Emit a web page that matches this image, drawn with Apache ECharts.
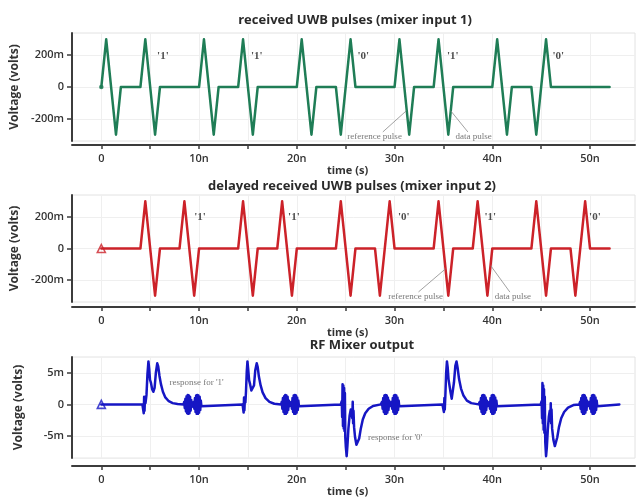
<!DOCTYPE html>
<html>
<head>
<meta charset="utf-8">
<title>UWB pulse mixer</title>
<script src="https://cdn.jsdelivr.net/npm/echarts@6/dist/echarts.min.js"></script>
<style>
  html, body { margin: 0; padding: 0; background: #fff; }
  #chart { width: 643px; height: 498px; }
</style>
</head>
<body>
<div id="chart"></div>
<script>
// time in ns, voltage in mV

const timeTickValues = [0, 5, 10, 15, 20, 25, 30, 35, 40, 45, 50];
const timeLabelValues = [0, 10, 20, 30, 40, 50];
const pulseVoltageLabels = [-200, 0, 200];
const mixerVoltageLabels = [-5, 0, 5];

const titles = [
  'received UWB pulses (mixer input 1)',
  'delayed received UWB pulses (mixer input 2)',
  'RF Mixer output'
];

const bitsSent = ["'1'", "'1'", "'0'", "'1'", "'0'"];

// mixer input 1: reference pulse + data pulse every 10 ns
const inputOnePulse = [
  [0, 0], [0.5, 300], [1.5, -300], [2, 0], [4, 0], [4.5, 300], [5.5, -300], [6, 0],
  [10, 0], [10.5, 300], [11.5, -300], [12, 0], [14, 0], [14.5, 300], [15.5, -300], [16, 0],
  [20, 0], [20.5, 300], [21.5, -300], [22, 0], [24, 0], [24.5, -300], [25.5, 300], [26, 0],
  [30, 0], [30.5, 300], [31.5, -300], [32, 0], [34, 0], [34.5, 300], [35.5, -300], [36, 0],
  [40, 0], [40.5, 300], [41.5, -300], [42, 0], [44, 0], [44.5, -300], [45.5, 300], [46, 0],
  [52, 0]
];

// mixer input 2: the same pulse train delayed by 4 ns
const inputTwoPulse = [
  [0, 0], [4, 0], [4.5, 300], [5.5, -300], [6, 0], [8, 0], [8.5, 300], [9.5, -300], [10, 0],
  [14, 0], [14.5, 300], [15.5, -300], [16, 0], [18, 0], [18.5, 300], [19.5, -300], [20, 0],
  [24, 0], [24.5, 300], [25.5, -300], [26, 0], [28, 0], [28.5, -300], [29.5, 300], [30, 0],
  [34, 0], [34.5, 300], [35.5, -300], [36, 0], [38, 0], [38.5, 300], [39.5, -300], [40, 0],
  [44, 0], [44.5, 300], [45.5, -300], [46, 0], [48, 0], [48.5, -300], [49.5, 300], [50, 0],
  [52, 0]
];

// RF mixer output
const mixerOutput = [
  [0, 0], [4.2, 0],
  // bit 1
  [4.3, 0.3], [4.34, -1.4], [4.38, 1.2], [4.42, -1.0], [4.46, 0.8], [4.52, 0.2], [4.62, 1.5],
  [4.72, 4.8], [4.82, 6.8], [4.9, 5.6], [4.98, 3.9], [5.08, 3.4], [5.2, 2.4], [5.32, 2.0],
  [5.45, 2.6], [5.58, 5.0], [5.72, 6.5], [5.82, 6.0], [5.95, 4.5], [6.1, 3.2], [6.3, 2.0],
  [6.55, 1.1], [6.9, 0.5], [7.3, 0.2], [7.8, 0.05], [8.42, 0],
  [8.48, 0.4], [8.54, -0.6], [8.6, 0.9], [8.66, -1.1], [8.72, 1.3], [8.78, -1.4], [8.84, 1.5],
  [8.9, -1.5], [8.96, 1.4], [9.02, -1.4], [9.08, 1.2], [9.14, -1.0], [9.2, 0.7], [9.26, -0.4],
  [9.32, 0], [9.4, 0],
  [9.46, 0.4], [9.52, -0.7], [9.58, 1.0], [9.64, -1.2], [9.7, 1.4], [9.76, -1.5], [9.82, 1.5],
  [9.88, -1.5], [9.94, 1.4], [10.0, -1.3], [10.06, 1.2], [10.12, -0.9], [10.18, 0.6], [10.24, -0.3],
  [10.3, 0],
  // bit 2
  [14.45, 0], [14.5, 0.2], [14.56, -1.3], [14.6, 1.1], [14.64, -0.9], [14.68, 0.7], [14.74, 0.3],
  [14.8, 2.0], [14.88, 5.2], [14.95, 6.8], [15.03, 5.5], [15.12, 3.8], [15.22, 3.2], [15.35, 2.2],
  [15.5, 2.1], [15.62, 3.0], [15.75, 5.4], [15.9, 6.5], [16.0, 5.9], [16.12, 4.4], [16.3, 3.0],
  [16.5, 1.9], [16.8, 1.0], [17.2, 0.4], [17.7, 0.1], [18.4, 0],
  [18.46, 0.4], [18.52, -0.7], [18.58, 1.0], [18.64, -1.2], [18.7, 1.3], [18.76, -1.5], [18.82, 1.5],
  [18.88, -1.5], [18.94, 1.4], [19.0, -1.3], [19.06, 1.2], [19.12, -0.9], [19.18, 0.6], [19.24, -0.3],
  [19.3, 0], [19.38, 0],
  [19.44, 0.4], [19.5, -0.7], [19.56, 1.0], [19.62, -1.2], [19.68, 1.4], [19.74, -1.5], [19.8, 1.5],
  [19.86, -1.5], [19.92, 1.4], [19.98, -1.3], [20.04, 1.1], [20.1, -0.9], [20.16, 0.6], [20.22, -0.3],
  [20.28, 0],
  // bit 3
  [24.5, 0], [24.6, 0.5], [24.64, -2.0], [24.68, 3.2], [24.72, -3.4], [24.76, 3.0], [24.8, -3.8],
  [24.84, 2.6], [24.88, -4.2], [24.92, 1.8], [24.96, -5.2], [25.02, -6.8], [25.1, -8.2], [25.18, -6.5],
  [25.28, -3.8], [25.4, -1.8], [25.52, -0.8], [25.62, -0.5], [25.68, -2.2], [25.72, 0.4], [25.76, -3.0],
  [25.8, -1.0], [25.86, -3.6], [25.96, -5.2], [26.1, -6.4], [26.25, -6.7], [26.38, -5.4], [26.55, -3.8],
  [26.75, -2.4], [27.0, -1.4], [27.35, -0.7], [27.8, -0.25], [28.6, 0],
  [28.72, 0.4], [28.78, -0.7], [28.84, 1.0], [28.9, -1.2], [28.96, 1.4], [29.02, -1.5], [29.08, 1.5],
  [29.14, -1.5], [29.2, 1.4], [29.26, -1.3], [29.32, 1.1], [29.38, -0.9], [29.44, 0.6], [29.5, -0.3],
  [29.56, 0], [29.64, 0],
  [29.7, 0.4], [29.76, -0.7], [29.82, 1.0], [29.88, -1.2], [29.94, 1.4], [30.0, -1.5], [30.06, 1.5],
  [30.12, -1.5], [30.18, 1.4], [30.24, -1.3], [30.3, 1.1], [30.36, -0.9], [30.42, 0.6], [30.48, -0.3],
  [30.54, 0],
  // bit 4
  [34.9, 0], [35.0, 0.3], [35.05, -1.2], [35.1, 1.0], [35.14, -0.8], [35.2, 1.5], [35.28, 5.0],
  [35.36, 6.8], [35.44, 5.8], [35.52, 4.0], [35.6, 3.8], [35.72, 2.0], [35.85, 0.9], [35.95, 1.2],
  [36.08, 3.5], [36.22, 6.1], [36.34, 6.8], [36.45, 5.8], [36.6, 4.0], [36.8, 2.5], [37.05, 1.4],
  [37.4, 0.6], [37.85, 0.2], [38.6, 0],
  [38.72, 0.4], [38.78, -0.7], [38.84, 1.0], [38.9, -1.2], [38.96, 1.4], [39.02, -1.5], [39.08, 1.5],
  [39.14, -1.5], [39.2, 1.4], [39.26, -1.3], [39.32, 1.1], [39.38, -0.9], [39.44, 0.6], [39.5, -0.3],
  [39.56, 0], [39.64, 0],
  [39.7, 0.4], [39.76, -0.7], [39.82, 1.0], [39.88, -1.2], [39.94, 1.4], [40.0, -1.5], [40.06, 1.5],
  [40.12, -1.5], [40.18, 1.4], [40.24, -1.3], [40.3, 1.1], [40.36, -0.9], [40.42, 0.6], [40.48, -0.3],
  [40.54, 0],
  // bit 5
  [44.95, 0], [45.05, 0.5], [45.09, -2.2], [45.13, 3.4], [45.17, -3.0], [45.21, 3.0], [45.25, -4.0],
  [45.29, 2.4], [45.33, -4.5], [45.37, 1.2], [45.42, -6.0], [45.5, -8.2], [45.58, -6.8], [45.68, -4.0],
  [45.78, -2.0], [45.88, -1.0], [45.94, -2.6], [45.98, 0.2], [46.02, -3.0], [46.06, -0.8], [46.12, -3.8],
  [46.25, -5.6], [46.4, -6.6], [46.52, -6.7], [46.65, -5.2], [46.82, -3.6], [47.05, -2.2], [47.35, -1.2],
  [47.75, -0.5], [48.3, -0.1], [48.9, 0],
  [48.98, 0.4], [49.04, -0.7], [49.1, 1.0], [49.16, -1.2], [49.22, 1.4], [49.28, -1.5], [49.34, 1.5],
  [49.4, -1.5], [49.46, 1.4], [49.52, -1.3], [49.58, 1.1], [49.64, -0.9], [49.7, 0.6], [49.76, -0.3],
  [49.82, 0], [49.9, 0],
  [49.96, 0.4], [50.02, -0.7], [50.08, 1.0], [50.14, -1.2], [50.2, 1.4], [50.26, -1.5], [50.32, 1.5],
  [50.38, -1.5], [50.44, 1.4], [50.5, -1.3], [50.56, 1.1], [50.62, -0.9], [50.68, 0.6], [50.74, -0.3],
  [50.8, 0],
  [53.0, 0]
];

// where each bit label sits (ns, mV)
const bitLabelAtInputOne = [[6.3, 195], [15.9, 195], [26.8, 195], [35.95, 195], [46.75, 195]];
const bitLabelAtInputTwo = [[10.1, 202], [19.7, 202], [30.95, 202], [39.8, 202], [50.5, 202]];

// pulse call-outs: text anchor, then leader start and end
const inputOneNotes = [
  { text: 'reference pulse', at: [27.95, -313], from: [28.8, -283], to: [31.2, -150] },
  { text: 'data pulse', at: [38.1, -313], from: [37.5, -283], to: [35.75, -150] }
];
const inputTwoNotes = [
  { text: 'reference pulse', at: [32.15, -306], from: [32.45, -276], to: [35.2, -130] },
  { text: 'data pulse', at: [42.1, -308], from: [41.8, -277], to: [39.85, -110] }
];
const mixerNotes = [
  { text: "response for '1'", at: [9.75, 3.5] },
  { text: "response for '0'", at: [30.05, -5.25] }
];

const SANS = '"Open Sans", "Noto Sans", sans-serif';
const SERIF = '"Liberation Serif", "DejaVu Serif", serif';
const GREEN = '#1f7d56';
const RED = '#cc2229';
const BLUE = '#1616c4';
const AXIS = '#3c3c3c';

const grids = [
  { left: 72, right: 8, top: 33, height: 108 },
  { left: 72, right: 8, top: 195, height: 107 },
  { left: 72, right: 8, top: 357, height: 103 }
].map(g => Object.assign(g, { show: true, borderColor: '#e2e2e2', borderWidth: 1, containLabel: false }));

const axisOffsets = [4, 5, 8];

function timeLabel(v) {
  return v === 0 ? '0' : v + 'n';
}
function milliLabel(v) {
  return Math.abs(v) < 1e-9 ? '0' : v + 'm';
}

const xAxes = grids.map((g, i) => ({
  type: 'value',
  gridIndex: i,
  min: -3,
  max: 54.6,
  splitNumber: 5,
  offset: axisOffsets[i],
  name: 'time (s)',
  nameLocation: 'middle',
  nameGap: 18,
  nameTextStyle: { fontFamily: SANS, fontSize: 11, fontWeight: 'bold', color: '#333', padding: [0, 12, 0, 0] },
  axisLine: { show: true, onZero: false, lineStyle: { color: AXIS, width: 2 } },
  axisTick: { show: true, customValues: timeTickValues, length: 4, lineStyle: { color: AXIS, width: 1.5 } },
  axisLabel: {
    customValues: timeLabelValues,
    formatter: timeLabel,
    margin: 8,
    fontFamily: SANS,
    fontSize: 11,
    fontWeight: 600,
    color: '#333'
  },
  splitLine: { show: true, lineStyle: { color: '#efefef', width: 1 } }
}));

const yRanges = [[-340, 340], [-340, 340], [-8.5, 7.5]];
const yLabelSets = [pulseVoltageLabels, pulseVoltageLabels, mixerVoltageLabels];

const yAxes = grids.map((g, i) => ({
  type: 'value',
  gridIndex: i,
  min: yRanges[i][0],
  max: yRanges[i][1],
  splitNumber: 3,
  name: 'Voltage (volts)',
  nameLocation: 'middle',
  nameGap: 47,
  nameRotate: 90,
  nameTextStyle: { fontFamily: SANS, fontSize: 12, fontWeight: 'bold', color: '#333' },
  axisLine: { show: true, onZero: false, lineStyle: { color: AXIS, width: 2 } },
  axisTick: { show: true, customValues: yLabelSets[i], length: 5, lineStyle: { color: AXIS, width: 1.5 } },
  axisLabel: {
    customValues: yLabelSets[i],
    formatter: milliLabel,
    margin: 8,
    fontFamily: SANS,
    fontSize: 11,
    fontWeight: 600,
    color: '#333'
  },
  splitLine: { show: true, lineStyle: { color: '#efefef', width: 1 } }
}));

const titleTops = [14, 180, 339];
const titleCenters = [355, 352, 362];
const titleList = titles.map((t, i) => ({
  text: t,
  left: titleCenters[i],
  top: titleTops[i],
  textAlign: 'center',
  padding: 0,
  textStyle: { fontFamily: SANS, fontSize: 13, fontWeight: 'bold', color: '#2a2a2a' }
}));

function traceSeries(idx, data, color) {
  return {
    type: 'line',
    xAxisIndex: idx,
    yAxisIndex: idx,
    data: data,
    symbol: 'none',
    silent: true,
    z: 3,
    lineStyle: { color: color, width: 2.5, join: 'round', cap: 'round' }
  };
}

function startMarker(idx, color, symbol, size) {
  return {
    type: 'scatter',
    xAxisIndex: idx,
    yAxisIndex: idx,
    data: [[0, 0]],
    symbol: symbol,
    symbolSize: size,
    silent: true,
    z: 4,
    itemStyle: { color: symbol === 'triangle' ? 'rgba(255,255,255,0)' : color, borderColor: color, borderWidth: 1.6 }
  };
}

function textSeries(idx, items, style) {
  return {
    type: 'scatter',
    xAxisIndex: idx,
    yAxisIndex: idx,
    data: items.map(d => [d[0], d[1], d[2]]),
    symbolSize: 0,
    silent: true,
    z: 6,
    label: Object.assign({ show: true, position: 'inside', formatter: p => p.data[2] }, style)
  };
}

function leaderSeries(idx, notes) {
  return notes.filter(n => n.from).map(n => ({
    type: 'line',
    xAxisIndex: idx,
    yAxisIndex: idx,
    data: [n.from, n.to],
    symbol: 'none',
    silent: true,
    z: 5,
    lineStyle: { color: '#8a8a8a', width: 0.8 }
  }));
}

const bitStyle = { fontFamily: SERIF, fontSize: 11, fontWeight: 'bold', color: '#222' };
const noteStyle = { fontFamily: SERIF, fontSize: 9, color: '#555' };

const series = [
  traceSeries(0, inputOnePulse, GREEN),
  startMarker(0, GREEN, 'circle', 3),
  traceSeries(1, inputTwoPulse, RED),
  startMarker(1, RED, 'triangle', 8),
  traceSeries(2, mixerOutput, BLUE),
  startMarker(2, BLUE, 'triangle', 8),
  textSeries(0, bitLabelAtInputOne.map((p, i) => [p[0], p[1], bitsSent[i]]), bitStyle),
  textSeries(1, bitLabelAtInputTwo.map((p, i) => [p[0], p[1], bitsSent[i]]), bitStyle),
  textSeries(0, inputOneNotes.map(n => [n.at[0], n.at[1], n.text]), noteStyle),
  textSeries(1, inputTwoNotes.map(n => [n.at[0], n.at[1], n.text]), noteStyle),
  textSeries(2, mixerNotes.map(n => [n.at[0], n.at[1], n.text]), noteStyle)
].concat(leaderSeries(0, inputOneNotes), leaderSeries(1, inputTwoNotes));

const chart = echarts.init(document.getElementById('chart'), null, { renderer: 'canvas' });
chart.setOption({
  animation: false,
  backgroundColor: '#ffffff',
  title: titleList,
  grid: grids,
  xAxis: xAxes,
  yAxis: yAxes,
  series: series
});
</script>
</body>
</html>
